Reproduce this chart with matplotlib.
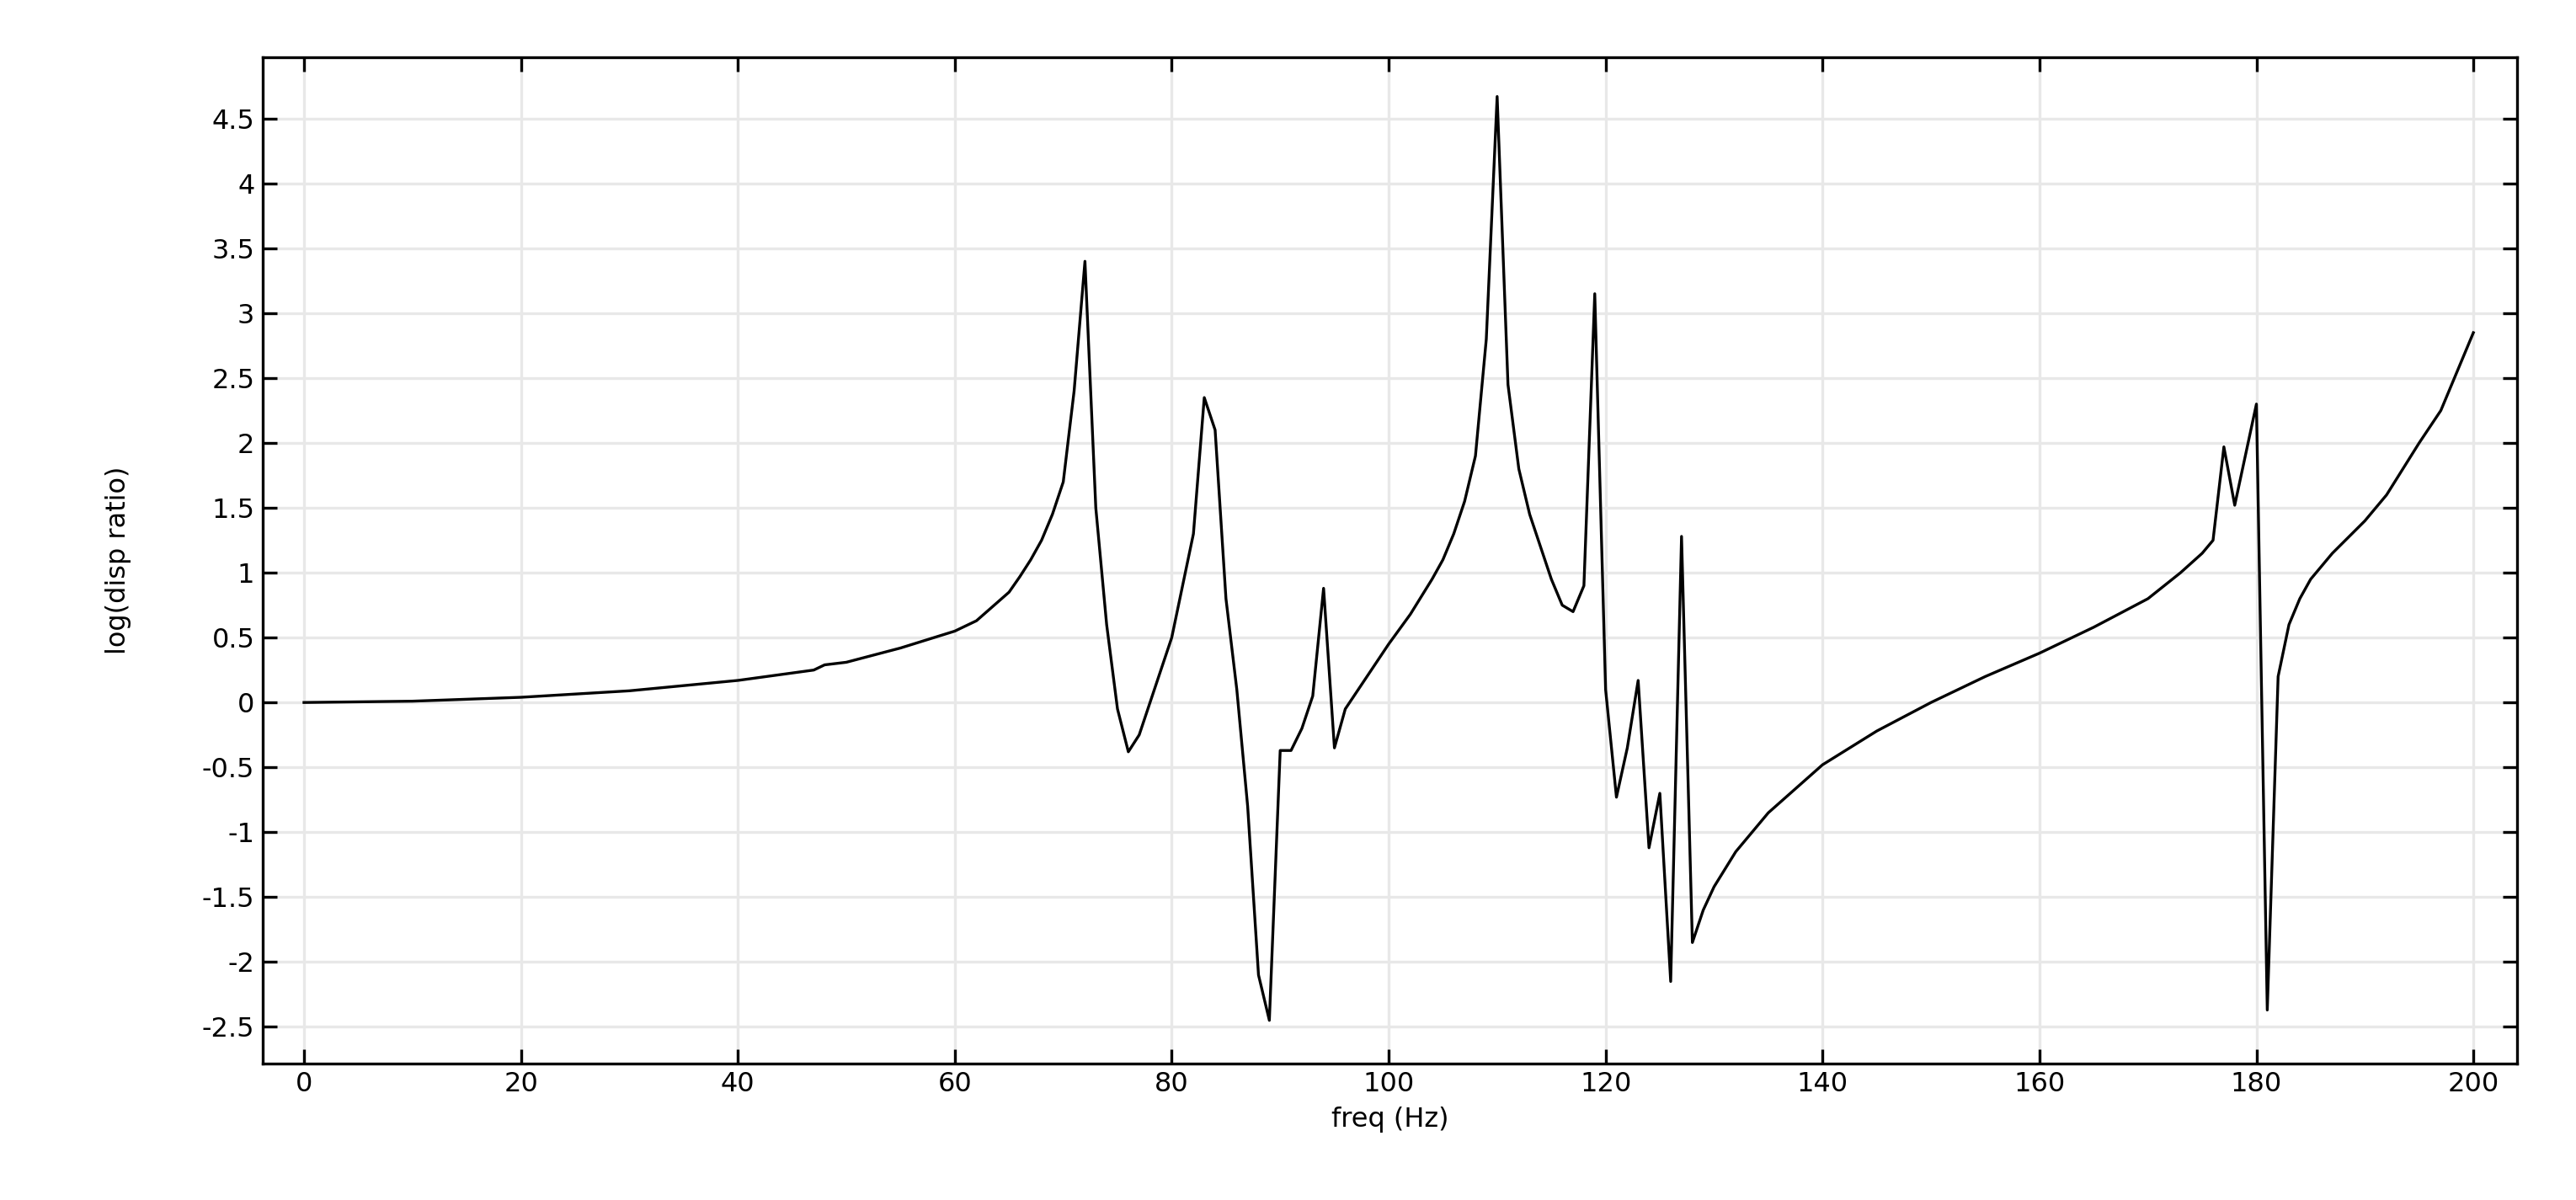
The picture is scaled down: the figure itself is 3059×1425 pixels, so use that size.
import matplotlib.pyplot as plt
from matplotlib.ticker import MultipleLocator

# frecuencia (Hz) y log(disp ratio)
freq = [0, 10, 20, 30, 40, 47, 48, 50, 55, 60, 62, 65, 66, 67, 68, 69, 70, 71, 72,
        73, 74, 75, 76, 77, 78, 80, 82, 83, 84, 85, 86, 87, 88, 89, 90, 91, 92, 93,
        94, 95, 96, 98, 100, 102, 104, 105, 106, 107, 108, 109, 110, 111, 112, 113,
        114, 115, 116, 117, 118, 119,
        120, 121, 122, 123, 124, 125, 126, 127, 128, 129, 130, 132, 135, 140, 145, 150,
        155, 160, 165, 170, 173, 175, 176, 177, 178, 180, 181, 182, 183, 184, 185,
        187, 190, 192, 195, 197, 200]
disp = [0.0, 0.01, 0.04, 0.09, 0.17, 0.25, 0.29, 0.31, 0.42, 0.55, 0.63, 0.85, 0.97,
        1.1, 1.25, 1.45, 1.7, 2.4, 3.4, 1.5, 0.6, -0.05, -0.38, -0.25, 0.0, 0.5, 1.3,
        2.35, 2.1, 0.8, 0.1, -0.8, -2.1, -2.45, -0.37, -0.37, -0.2, 0.05, 0.88, -0.35,
        -0.05, 0.2, 0.45, 0.68, 0.95, 1.1, 1.3, 1.55, 1.9, 2.8, 4.67, 2.45, 1.8, 1.45,
        1.2, 0.95, 0.75, 0.7, 0.9, 3.15,
        0.1, -0.73, -0.35, 0.17, -1.12, -0.7, -2.15, 1.28, -1.85, -1.6, -1.42, -1.15,
        -0.85, -0.48, -0.22, 0.0, 0.2, 0.38, 0.58, 0.8, 1.0, 1.15, 1.25, 1.97, 1.52,
        2.3, -2.37, 0.2, 0.6, 0.8, 0.95, 1.15, 1.4, 1.6, 2.0, 2.25, 2.85]

fig = plt.figure(figsize=(15.295, 7.125), dpi=200)
ax = fig.add_axes([0.102, 0.114, 0.875, 0.838])
ax.plot(freq, disp, color='black', linewidth=1.2)

ax.set_xlim(-3.8, 204)
ax.set_ylim(-2.78, 4.97)
ax.xaxis.set_major_locator(MultipleLocator(20))
ax.yaxis.set_major_locator(MultipleLocator(0.5))
ax.yaxis.set_major_formatter(plt.FuncFormatter(lambda v, p: f"{v:g}"))
ax.grid(True, color='#e8e8e8', linewidth=1.2)
ax.set_axisbelow(True)
ax.tick_params(direction='in', top=True, right=True, length=6, width=1.2,
               labelsize=11.5, labeltop=False, labelright=False)
for s in ax.spines.values():
    s.set_linewidth(1.2)

ax.set_xlabel("freq (Hz)", fontsize=11.5)
ax.set_ylabel("log(disp ratio)", fontsize=11.5, labelpad=30)

fig.savefig("out.png")
